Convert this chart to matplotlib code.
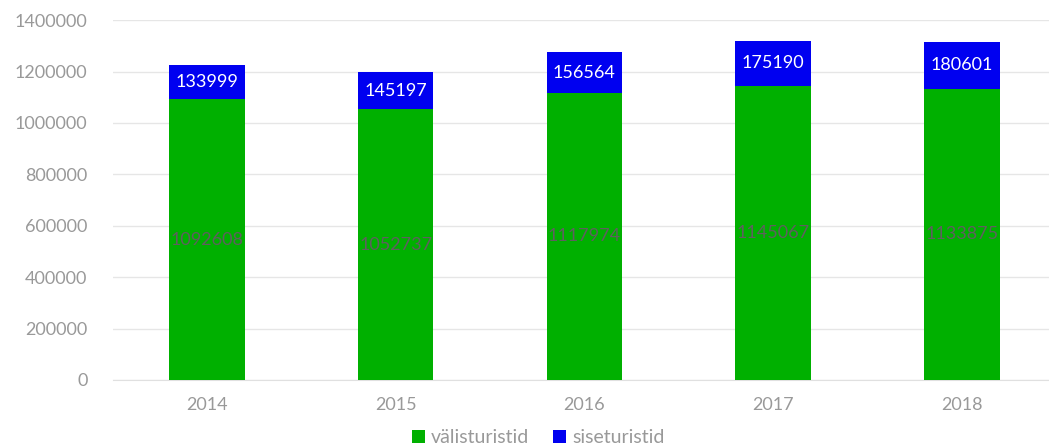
import numpy as np
import matplotlib
matplotlib.use('Agg')
import matplotlib.pyplot as plt

years = ['2014', '2015', '2016', '2017', '2018']
foreign = [1092608, 1052737, 1117974, 1145067, 1133875]
domestic = [133999, 145197, 156564, 175190, 180601]

plt.rcParams['font.family'] = ['Lato', 'DejaVu Sans']

fig = plt.figure(figsize=(10.49, 4.48), dpi=100)
# plot area runs a bit past the right edge, like the original
ax = fig.add_axes([0.1073, 0.152, 0.8997, 0.803])

x = np.arange(len(years))
green = '#00b000'
blue = '#0000f0'
b1 = ax.bar(x, foreign, width=0.40, color=green, label='välisturistid', zorder=3)
b2 = ax.bar(x, domestic, width=0.40, bottom=foreign, color=blue, label='siseturistid', zorder=3)

for i in range(len(years)):
    ax.text(x[i], foreign[i] / 2, str(foreign[i]), ha='center', va='center',
            color='#5f5f5f', fontsize=13, zorder=4)
    ax.text(x[i], foreign[i] + domestic[i] / 2, str(domestic[i]), ha='center', va='center',
            color='white', fontsize=13, zorder=4)

ax.set_xlim(-0.5, len(years) - 0.5)
ax.set_ylim(0, 1400000)
ax.set_yticks(np.arange(0, 1400001, 200000))
ax.set_yticklabels([str(v) for v in range(0, 1400001, 200000)])
ax.set_xticks(x)
ax.set_xticklabels(years)
ax.grid(axis='y', color='#e6e6e6', linewidth=1, zorder=0)
for s in ['top', 'right', 'left']:
    ax.spines[s].set_visible(False)
ax.spines['bottom'].set_color('#e0e0e0')
ax.tick_params(axis='both', length=0, labelsize=13, colors='#999999')
ax.tick_params(axis='y', pad=18)
ax.tick_params(axis='x', pad=12)

leg = fig.legend(handles=[b1, b2], loc='lower center', bbox_to_anchor=(0.513, -0.035), ncol=2,
                 frameon=False, fontsize=14, handlelength=0.7, handleheight=0.7,
                 handletextpad=0.3, columnspacing=1.2)
for t in leg.get_texts():
    t.set_color('#999999')

fig.savefig('out.png', dpi=100)
